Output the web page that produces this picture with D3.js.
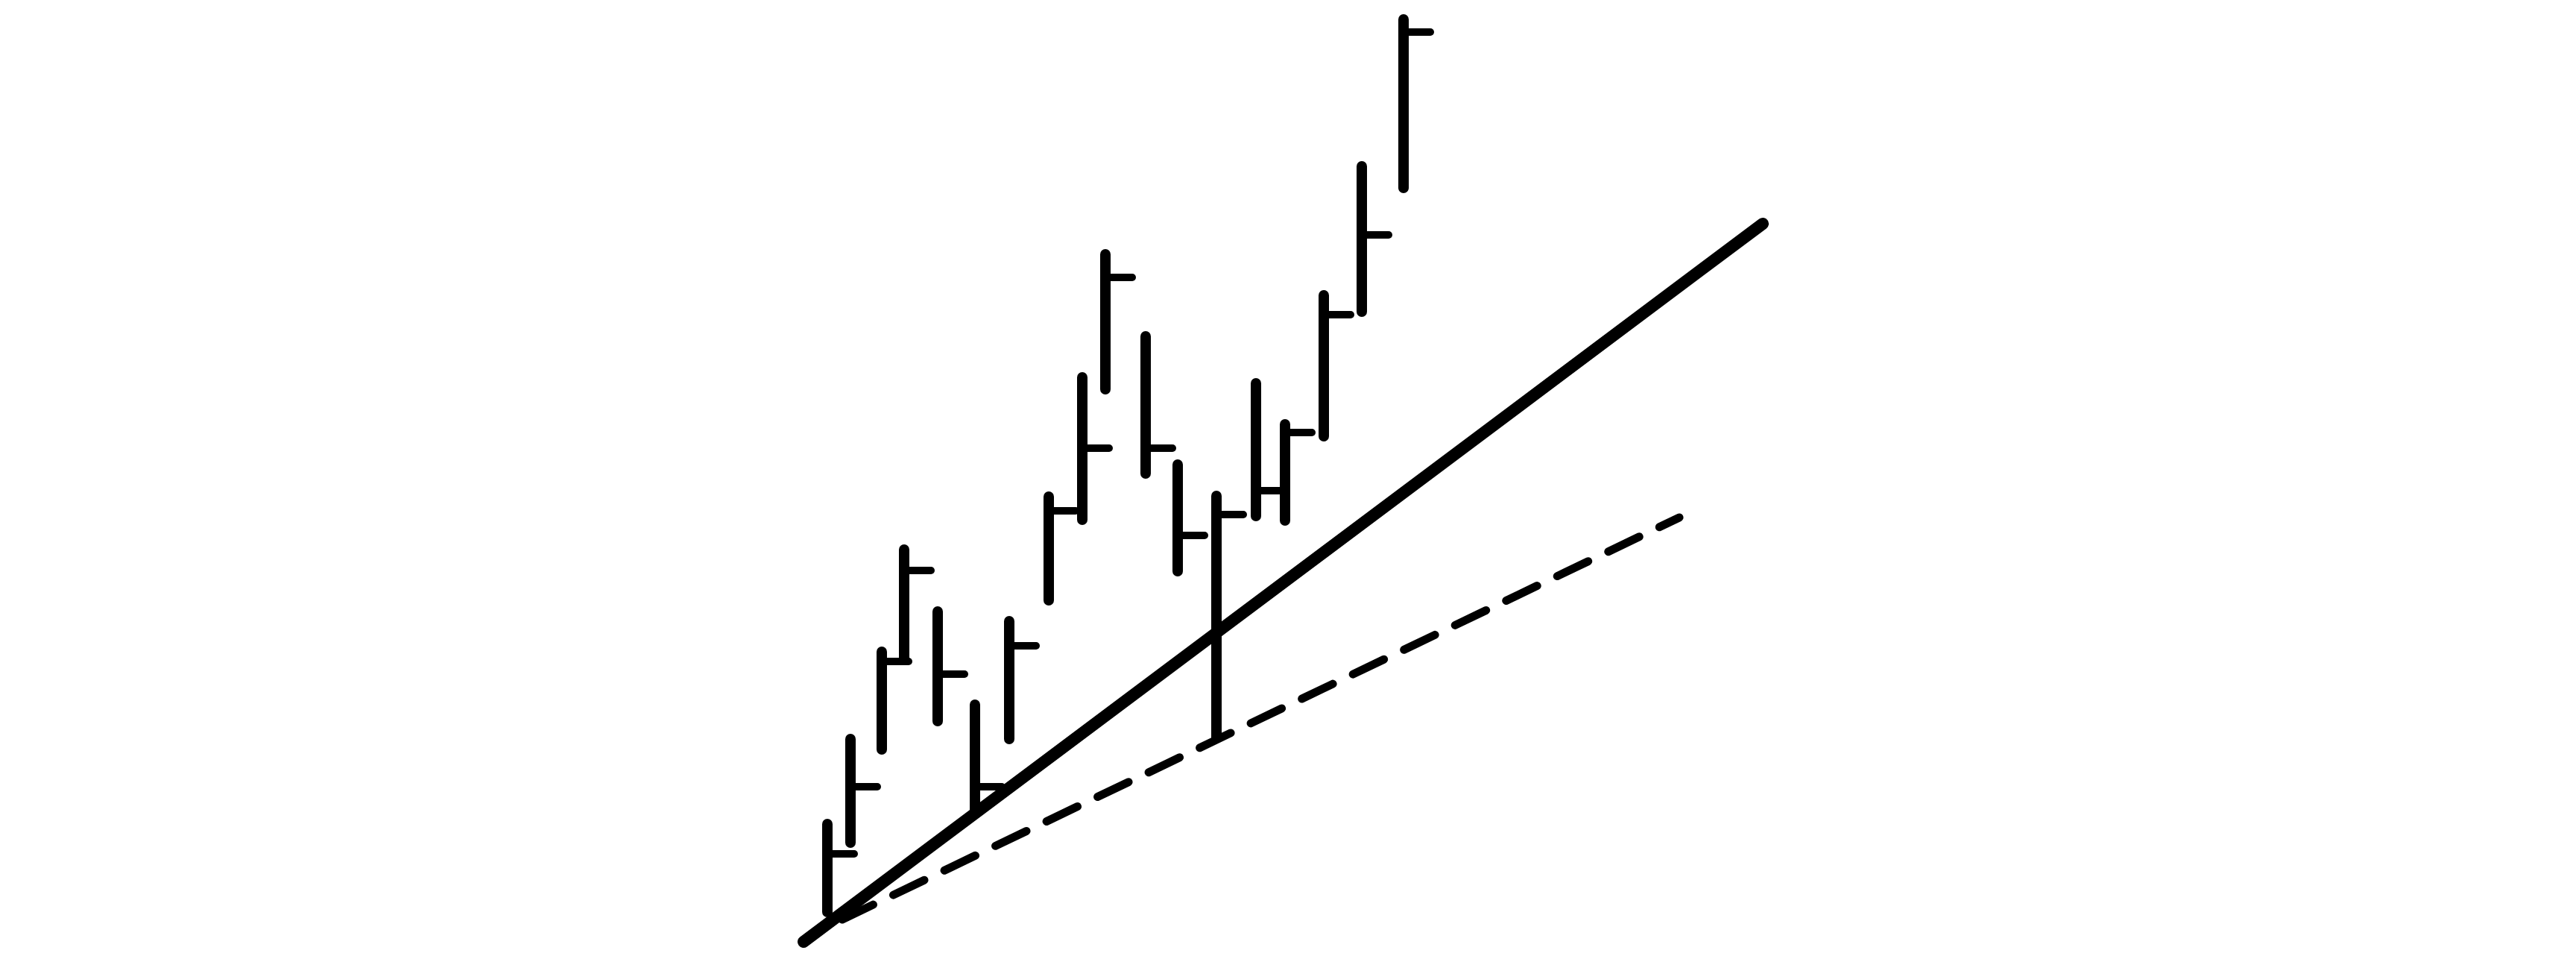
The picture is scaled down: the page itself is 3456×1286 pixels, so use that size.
<!DOCTYPE html>
<html>
<head>
<meta charset="utf-8">
<script src="https://cdn.jsdelivr.net/npm/d3@7"></script>
<style>
  html, body { margin: 0; padding: 0; background: #ffffff; }
  svg { display: block; }
</style>
</head>
<body>
<script>
// ---- data ----
const days   = [11.0, 14.1, 18.3, 21.3, 25.8, 30.8, 35.4, 40.7, 45.2, 48.3, 53.7, 58.0, 63.2, 68.5, 72.4, 77.6, 82.7, 88.3];
const highs  = [18.1, 29.5, 41.2, 54.9, 46.6, 34.1, 45.3, 62.0, 78.0, 94.5, 83.5, 66.3, 62.1, 77.2, 71.7, 89.0, 106.3, 126.0];
const lows   = [ 6.3, 15.6, 28.1, 40.3, 31.9, 19.8, 29.5, 48.1, 58.9, 76.4, 65.1, 52.0, 29.7, 59.4, 58.8, 70.1, 86.8, 103.4];
const closes = [14.1, 23.1, 39.9, 52.1, 38.2, 23.1, 42.0, 60.1, 68.5, 91.4, 68.5, 56.8, 59.6, 62.8, 70.6, 86.4, 97.1, 124.3];
// trend lines: [day, price] endpoints
const upTrend     = [[7.8, 2.3], [136.5, 98.6]];
const slowerTrend = [[13.0, 5.3], [125.3, 59.2]];

// ---- layout ----
const W = 3456, H = 1286;
const x = d3.scaleLinear().domain([-100, 245.6]).range([0, W]);
const y = d3.scaleLinear().domain([0, 128.6]).range([H, 0]);

const svg = d3.select("body").append("svg")
  .attr("width", W).attr("height", H)
  .attr("viewBox", `0 0 ${W} ${H}`);

svg.append("rect").attr("width", W).attr("height", H).attr("fill", "#ffffff");

const line = d3.line().x(d => x(d[0])).y(d => y(d[1]));

// dashed slower trend line
svg.append("path")
  .datum(slowerTrend)
  .attr("d", line)
  .attr("fill", "none")
  .attr("stroke", "#000")
  .attr("stroke-width", 11)
  .attr("stroke-dasharray", "46 30")
  .attr("stroke-linecap", "round");

// solid up trend line
svg.append("path")
  .datum(upTrend)
  .attr("d", line)
  .attr("fill", "none")
  .attr("stroke", "#000")
  .attr("stroke-width", 16)
  .attr("stroke-linecap", "round");

const bars = days.map((d, i) => ({ day: d, high: highs[i], low: lows[i], close: closes[i] }));

const g = svg.append("g");
const bar = g.selectAll("g.bar").data(bars).join("g").attr("class", "bar");

bar.append("line")
  .attr("x1", d => x(d.day)).attr("x2", d => x(d.day))
  .attr("y1", d => y(d.high)).attr("y2", d => y(d.low))
  .attr("stroke", "#000").attr("stroke-width", 14)
  .attr("stroke-linecap", "round");

bar.append("line")
  .attr("x1", d => x(d.day)).attr("x2", d => x(d.day) + 36)
  .attr("y1", d => y(d.close)).attr("y2", d => y(d.close))
  .attr("stroke", "#000").attr("stroke-width", 10)
  .attr("stroke-linecap", "round");
</script>
</body>
</html>
